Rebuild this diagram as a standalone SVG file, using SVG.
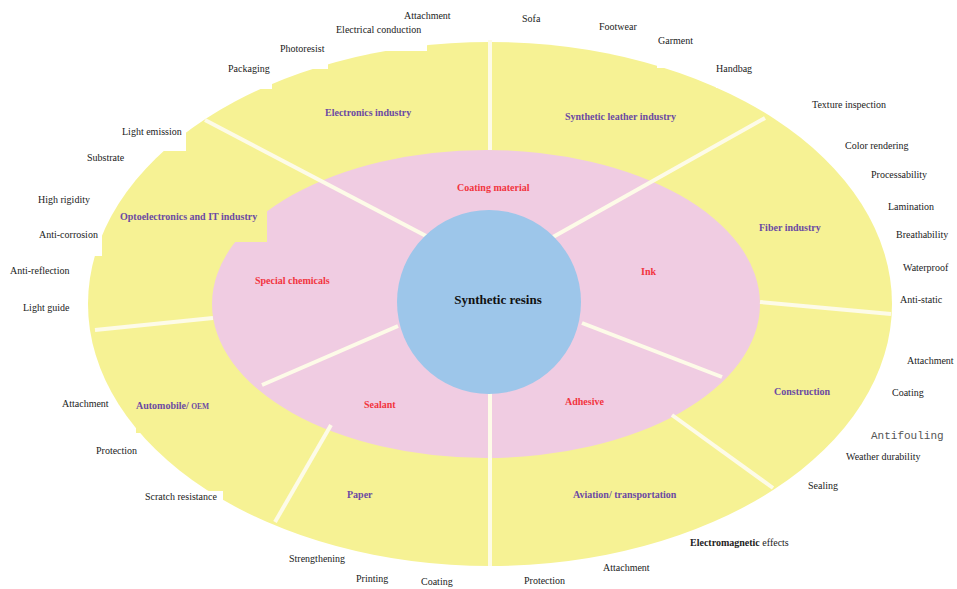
<svg xmlns="http://www.w3.org/2000/svg" width="957" height="589" viewBox="0 0 957 589">
<style>
.t{font-family:"Liberation Serif","Times New Roman",serif;font-size:10px;fill:#222}
.c{font-family:"Liberation Serif","Times New Roman",serif;font-size:10px;font-weight:bold;fill:#6b4aa3}
.p{font-family:"Liberation Serif","Times New Roman",serif;font-size:10px;font-weight:bold;fill:#f2353f}
.div{stroke:#fdfbe8;stroke-width:4;fill:none;stroke-linecap:butt}
.wb{fill:#ffffff}
.yb{fill:#f6f294}
</style>
<rect width="957" height="589" fill="#ffffff"/>
<g id="ring-outer"><ellipse cx="490" cy="304" rx="402" ry="262" fill="#f6f294"/></g>
<g id="ring-inner"><ellipse cx="486" cy="304" rx="274" ry="154" fill="#f0cce2"/></g>
<g id="label-backgrounds">
<rect class="wb" x="226" y="60" width="46" height="29"/>
<rect class="wb" x="278" y="40" width="50" height="29"/>
<rect class="wb" x="334" y="22" width="93" height="29"/>
<rect class="wb" x="716" y="60" width="40" height="28"/>
<rect class="wb" x="657" y="32" width="40" height="36"/>
<rect class="wb" x="120" y="122" width="66" height="29"/>
<rect class="wb" x="36" y="226" width="66" height="30"/>
<rect class="yb" x="118" y="205" width="149" height="37"/>
<rect class="yb" x="136" y="398" width="79" height="35"/>
<rect class="wb" x="143" y="491" width="80" height="14"/>
</g>
<g id="connectors">
<line class="div" x1="490" y1="40" x2="490" y2="150"/>
<line class="div" x1="428" y1="237" x2="205" y2="120"/>
<line class="div" x1="553" y1="237" x2="765" y2="118"/>
<line class="div" x1="582" y1="323" x2="722" y2="377"/>
<line class="div" x1="760" y1="302" x2="891" y2="314"/>
<line class="div" x1="490" y1="390" x2="490" y2="566"/>
<line class="div" x1="398" y1="326" x2="262" y2="385"/>
<line class="div" x1="331" y1="425" x2="275" y2="522"/>
<line class="div" x1="672" y1="415" x2="773" y2="488"/>
<line class="div" x1="213" y1="318" x2="95" y2="330"/>
</g>
<g id="center"><circle cx="489" cy="302" r="92" fill="#9dc6ea"/>
<text x="498" y="304" text-anchor="middle" font-family="Liberation Serif,Times New Roman,serif" font-size="13" font-weight="bold" fill="#111">Synthetic resins</text></g>
<g id="inner-labels">
<text class="p" x="457" y="191">Coating material</text>
<text class="p" x="255" y="284">Special chemicals</text>
<text class="p" x="641" y="275">Ink</text>
<text class="p" x="364" y="408">Sealant</text>
<text class="p" x="565" y="405">Adhesive</text>
</g>
<g id="outer-labels">
<text class="c" x="325" y="116">Electronics industry</text>
<text class="c" x="565" y="120">Synthetic leather industry</text>
<text class="c" x="120" y="220">Optoelectronics and IT industry</text>
<text class="c" x="759" y="231">Fiber industry</text>
<text class="c" x="774" y="395">Construction</text>
<text class="c" x="136" y="409">Automobile/ <tspan font-size="7.5">OEM</tspan></text>
<text class="c" x="347" y="498">Paper</text>
<text class="c" x="573" y="498">Aviation/ transportation</text>
</g>
<g id="applications">
<text class="t" x="404" y="19">Attachment</text>
<text class="t" x="336" y="33">Electrical conduction</text>
<text class="t" x="280" y="52">Photoresist</text>
<text class="t" x="228" y="72">Packaging</text>
<text class="t" x="522" y="22">Sofa</text>
<text class="t" x="599" y="30">Footwear</text>
<text class="t" x="658" y="44">Garment</text>
<text class="t" x="716" y="72">Handbag</text>
<text class="t" x="812" y="108">Texture inspection</text>
<text class="t" x="845" y="149">Color rendering</text>
<text class="t" x="871" y="178">Processability</text>
<text class="t" x="888" y="210">Lamination</text>
<text class="t" x="896" y="238">Breathability</text>
<text class="t" x="903" y="271">Waterproof</text>
<text class="t" x="900" y="303">Anti-static</text>
<text class="t" x="907" y="364">Attachment</text>
<text class="t" x="892" y="396">Coating</text>
<text x="871" y="439" font-family="Liberation Mono,DejaVu Sans Mono,monospace" font-size="11" fill="#555">Antifouling</text>
<text class="t" x="846" y="460">Weather durability</text>
<text class="t" x="808" y="489">Sealing</text>
<text class="t" x="690" y="546"><tspan font-weight="bold">Electromagnetic</tspan> effects</text>
<text class="t" x="603" y="571">Attachment</text>
<text class="t" x="524" y="584">Protection</text>
<text class="t" x="421" y="585">Coating</text>
<text class="t" x="356" y="582">Printing</text>
<text class="t" x="289" y="562">Strengthening</text>
<text class="t" x="145" y="500">Scratch resistance</text>
<text class="t" x="96" y="454">Protection</text>
<text class="t" x="62" y="407">Attachment</text>
<text class="t" x="23" y="311">Light guide</text>
<text class="t" x="10" y="274">Anti-reflection</text>
<text class="t" x="39" y="238">Anti-corrosion</text>
<text class="t" x="38" y="203">High rigidity</text>
<text class="t" x="87" y="161">Substrate</text>
<text class="t" x="122" y="135">Light emission</text>
</g>
</svg>
